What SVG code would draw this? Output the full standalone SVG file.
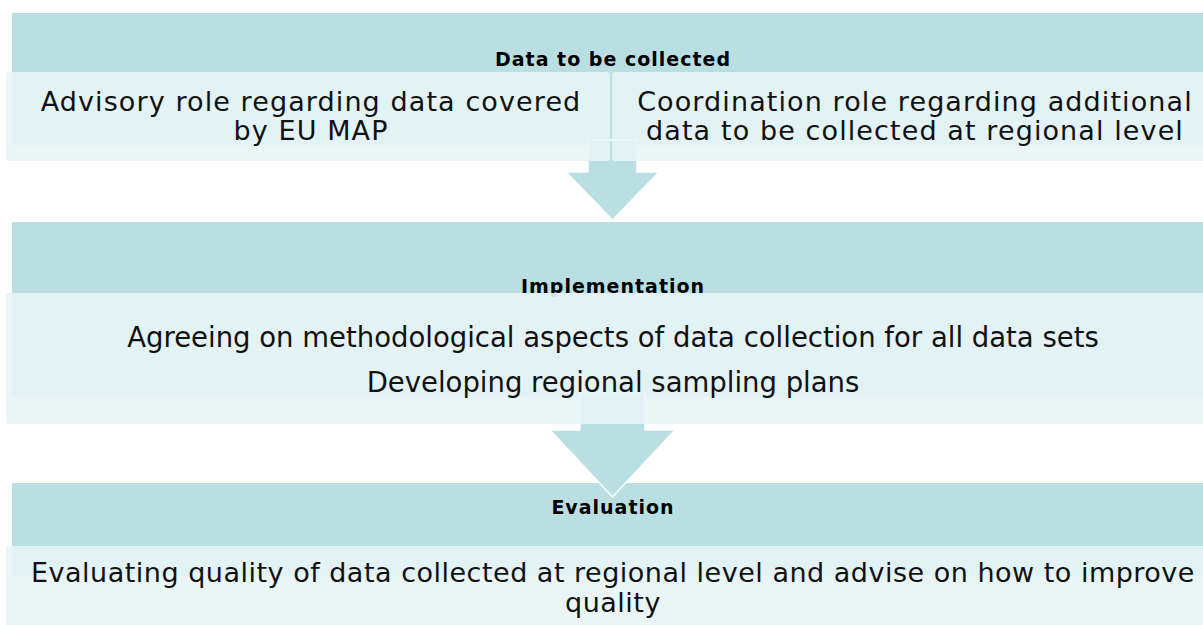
<svg xmlns="http://www.w3.org/2000/svg" width="1203" height="625" viewBox="0 0 1203 625">
<style>
.hdr{fill:#b9dfe3}
.box{fill:#e8f4f5;fill-opacity:0.9}
.arrow{fill:#b9dfe3;stroke:#ffffff;stroke-width:1.5}
.lbl{font-family:"DejaVu Sans","Verdana",sans-serif;font-weight:bold;font-size:19px;letter-spacing:1px;fill:#000;text-anchor:middle}
.txt{font-family:"DejaVu Sans","Verdana",sans-serif;fill:#111;text-anchor:middle}
.t1{font-size:27px;letter-spacing:1.1px}
.t2{font-size:27.5px}
.t3{font-size:27px;letter-spacing:0.5px}
</style>
<rect width="1203" height="625" fill="#ffffff"/>
<g id="header-data">
<rect class="hdr" x="12" y="13" width="1207" height="132"/>
<text class="lbl" x="613" y="66">Data to be collected</text>
</g>
<g id="header-implementation">
<rect class="hdr" x="12" y="222" width="1207" height="175"/>
<text class="lbl" x="613" y="293">Implementation</text>
</g>
<g id="header-evaluation">
<rect class="hdr" x="12" y="483" width="1207" height="93"/>
<text class="lbl" x="613" y="514">Evaluation</text>
</g>
<g id="connectors">
<path class="arrow" d="M588,140 L637,140 L637,172 L659,172 L612.5,220 L566,172 L588,172 Z"/>
<path class="arrow" d="M580,392 L645,392 L645,430 L675,430 L612.5,497 L550,430 L580,430 Z"/>
</g>
<g id="box-advisory">
<rect class="box" x="6" y="72" width="604" height="89" rx="3"/>
<text class="txt t1" x="311" y="111">Advisory role regarding data covered</text>
<text class="txt t1" x="311" y="140">by EU MAP</text>
</g>
<g id="box-coordination">
<rect class="box" x="612" y="72" width="607" height="89" rx="3"/>
<text class="txt t1" x="915" y="111">Coordination role regarding additional</text>
<text class="txt t1" x="915" y="140">data to be collected at regional level</text>
</g>
<g id="box-implementation">
<rect class="box" x="6" y="293" width="1213" height="131" rx="3"/>
<text class="txt t2" x="613" y="347">Agreeing on methodological aspects of data collection for all data sets</text>
<text class="txt t2" x="613" y="392">Developing regional sampling plans</text>
</g>
<g id="box-evaluation">
<rect class="box" x="6" y="546" width="1213" height="95" rx="3"/>
<text class="txt t3" x="613" y="582">Evaluating quality of data collected at regional level and advise on how to improve</text>
<text class="txt t3" x="613" y="612">quality</text>
</g>
</svg>
